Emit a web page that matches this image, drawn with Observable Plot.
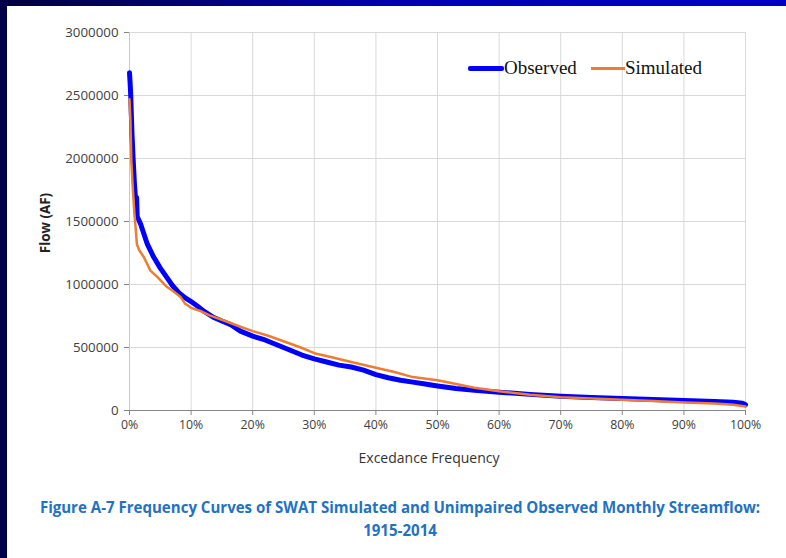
<!DOCTYPE html>
<html>
<head>
<meta charset="utf-8">
<script src="https://cdn.jsdelivr.net/npm/d3@7"></script>
<script src="https://cdn.jsdelivr.net/npm/@observablehq/plot@0.6"></script>
<style>
  html, body { margin: 0; padding: 0; background: #fff; }
  #wrap { position: relative; width: 786px; height: 558px; overflow: hidden; background: #fff; font-family: "Open Sans", sans-serif; }
  #topbar { position: absolute; left: 0; top: 0; width: 786px; height: 6px; background: linear-gradient(to right, #000040, #0000b0 50%, #0000cc); }
  #leftbar { position: absolute; left: 0; top: 0; width: 7px; height: 558px; background: #00004a; }
  #chart { position: absolute; left: 0; top: 0; }
  .legend { position: absolute; font-family: "Liberation Serif", "Times New Roman", serif; font-size: 19px; color: #111; display: flex; align-items: center; white-space: nowrap; }
  .legend .sw { display: inline-block; }
  #ylabel { position: absolute; left: 45px; top: 223px; transform: translate(-50%, -50%) rotate(-90deg); font-family: "Open Sans", sans-serif; font-weight: bold; font-size: 13.4px; color: #222; white-space: nowrap; }
  #xlabel { position: absolute; left: 429px; top: 457px; transform: translate(-50%, -50%); font-size: 14px; color: #333; white-space: nowrap; }
  .cap { position: absolute; left: 400px; transform: translate(-50%, -50%); font-family: "Open Sans", sans-serif; font-weight: bold; color: #2272c3; font-size: 13.4px; white-space: nowrap; }
</style>
</head>
<body>
<div id="wrap">
  <div id="chart"></div>
  <div id="topbar"></div>
  <div id="leftbar"></div>
  <div id="ylabel">Flow (AF)</div>
  <div id="xlabel">Excedance Frequency</div>
  <div class="legend" style="left:468px; top:57px;"><span class="sw" style="width:36px;height:5px;background:#0000ff;border-radius:2px;"></span><span>Observed</span></div>
  <div class="legend" style="left:591px; top:57px;"><span class="sw" style="width:34px;height:3px;background:#ed7d31;"></span><span>Simulated</span></div>
  <div class="cap" id="cap1" style="top:507px;">Figure A-7 Frequency Curves of SWAT Simulated and Unimpaired Observed Monthly Streamflow:</div>
  <div class="cap" id="cap2" style="top:530px;">1915-2014</div>
</div>
<script>
// Exceedance frequency (%) and flow (AF) for each series
const obsPct = [0, 0.1, 0.2, 0.4, 0.6, 0.8, 0.95, 1.15, 1.25, 1.8, 2.9, 3.9, 5.0, 6.0, 7.0, 8.0, 9.0, 10, 11, 12, 13.6, 15, 16.5, 18, 20, 22, 24, 26, 28, 30, 32, 34, 36, 38, 40, 42, 44, 46, 48, 50, 53, 56, 60, 65, 70, 75, 80, 85, 90, 95, 98, 99.5, 100];
const obsFlow = [2680000, 2600000, 2500000, 2200000, 1990000, 1800000, 1700000, 1690000, 1540000, 1480000, 1320000, 1220000, 1130000, 1060000, 990000, 935000, 895000, 865000, 830000, 790000, 740000, 710000, 680000, 630000, 590000, 560000, 520000, 480000, 440000, 410000, 385000, 360000, 345000, 320000, 285000, 260000, 240000, 225000, 210000, 195000, 175000, 160000, 145000, 128000, 114000, 103000, 95000, 87000, 80000, 72000, 65000, 58000, 45000];
const simPct = [0, 0.15, 0.3, 0.55, 0.8, 1.0, 1.2, 1.6, 2.3, 3.4, 4.5, 6.1, 7.0, 8.3, 9.0, 10, 11.5, 13, 15, 18, 20, 22.4, 25, 27.8, 30, 33, 36, 40, 43, 46, 50, 53, 56, 60, 65, 70, 75, 80, 85, 90, 95, 98, 100];
const simFlow = [2470000, 2300000, 1980000, 1750000, 1560000, 1450000, 1320000, 1270000, 1220000, 1110000, 1060000, 980000, 950000, 900000, 850000, 815000, 790000, 755000, 720000, 665000, 630000, 595000, 550000, 500000, 455000, 420000, 385000, 340000, 305000, 265000, 240000, 210000, 180000, 153000, 125000, 106000, 95000, 85000, 75000, 64000, 55000, 45000, 32000];
const xTicks = [0, 10, 20, 30, 40, 50, 60, 70, 80, 90, 100];
const yTicks = [0, 500000, 1000000, 1500000, 2000000, 2500000, 3000000];

const obs = obsPct.map((p, i) => ({p, f: obsFlow[i]}));
const sim = simPct.map((p, i) => ({p, f: simFlow[i]}));

const chart = Plot.plot({
  width: 786,
  height: 470,
  marginLeft: 129,
  marginRight: 41,
  marginTop: 32,
  marginBottom: 60,
  style: {fontFamily: "'Open Sans', sans-serif", color: "#404040", background: "transparent"},
  x: {domain: [0, 100], label: null},
  y: {domain: [0, 3000000], label: null},
  marks: [
    Plot.gridX(xTicks, {stroke: "#d9d9d9", strokeOpacity: 1, strokeWidth: 1}),
    Plot.gridY(yTicks, {stroke: "#d9d9d9", strokeOpacity: 1, strokeWidth: 1}),
    Plot.axisX({ticks: xTicks, tickFormat: () => "", stroke: "#868686", tickSize: 5, label: null}),
    Plot.axisY({ticks: yTicks, tickFormat: () => "", stroke: "#868686", tickSize: 5, label: null}),
    Plot.text(yTicks, {y: d => d, frameAnchor: "left", dx: -11, textAnchor: "end", text: d => String(d), fontSize: 13.3, fill: "#404040"}),
    Plot.text(xTicks, {x: d => d, frameAnchor: "bottom", dy: 18, text: d => d + "%", fontSize: 12.3, fill: "#404040"}),
    Plot.ruleY([0], {stroke: "#868686"}),
    Plot.ruleX([0], {stroke: "#c8c8c8"}),
    Plot.line(obs, {x: "p", y: "f", stroke: "#0000ff", strokeWidth: 5, curve: "linear", strokeLinejoin: "round", strokeLinecap: "round"}),
    Plot.line(sim, {x: "p", y: "f", stroke: "#ed7d31", strokeWidth: 2.5, curve: "linear", strokeLinejoin: "round"})
  ]
});
document.getElementById("chart").appendChild(chart);

// fit caption first line to its width in the reference (~720px)
const c1 = document.getElementById("cap1");
const w = c1.getBoundingClientRect().width;
if (w > 0) {
  const fs = 13.4 * 720 / w;
  c1.style.fontSize = fs + "px";
  document.getElementById("cap2").style.fontSize = fs + "px";
}
</script>
</body>
</html>
